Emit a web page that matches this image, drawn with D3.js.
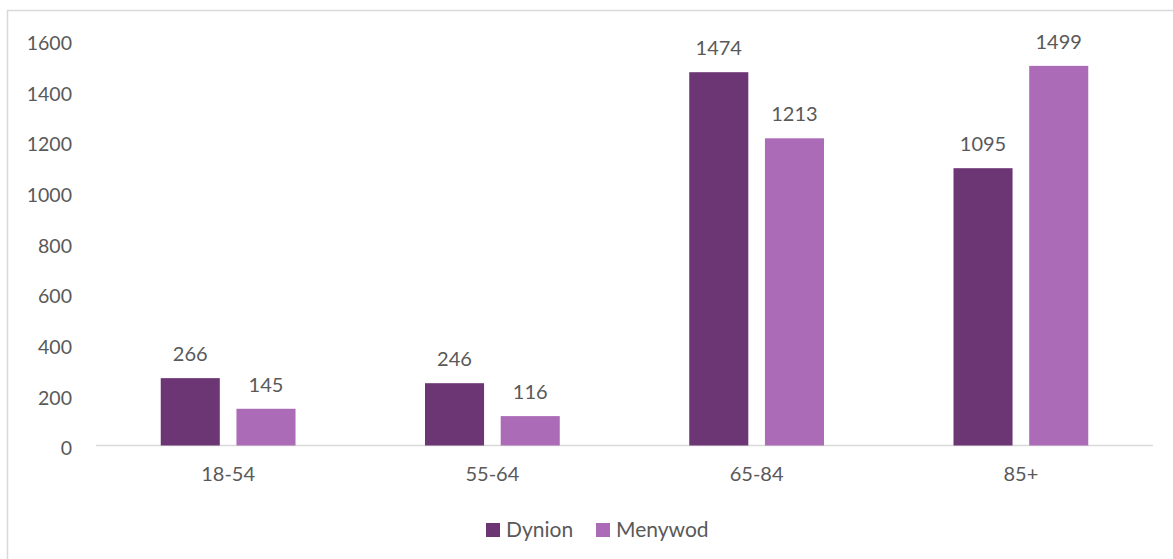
<!DOCTYPE html>
<html>
<head>
<meta charset="utf-8">
<script src="https://cdn.jsdelivr.net/npm/d3@7"></script>
<style>
  body { margin: 0; background: #fff; }
  text { font-family: Lato, "Open Sans", sans-serif; fill: #595959; }
</style>
</head>
<body>
<svg id="chart" width="1173" height="559"></svg>
<script>
// chart data
var categories = ['18-54', '55-64', '65-84', '85+'];
var seriesNames = ['Dynion', 'Menywod'];
var dynion = [266, 246, 1474, 1095];
var menywod = [145, 116, 1213, 1499];
var yTicks = [0, 200, 400, 600, 800, 1000, 1200, 1400, 1600];
var colors = ['#6c3573', '#ab6bb7'];

var svg = d3.select('#chart');
var margin = {top: 40.3, left: 96, right: 20, bottom: 113.5};
var width = 1153 - margin.left;
var height = 445.5 - margin.top;

// outer frame
svg.append('rect')
    .attr('x', 7.5).attr('y', 10.5)
    .attr('width', 1200).attr('height', 600)
    .attr('fill', 'none')
    .attr('stroke', '#d9d9d9')
    .attr('stroke-width', 1.5);

var g = svg.append('g').attr('transform', 'translate(' + margin.left + ',' + margin.top + ')');

var x0 = d3.scaleBand().domain(categories).range([0, width]).paddingInner(0.49).paddingOuter(0.245);
var x1 = d3.scaleBand().domain(seriesNames).range([0, x0.bandwidth()]).paddingInner(0.22);
var y = d3.scaleLinear().domain([0, 1600]).range([height, 0]);

// y axis labels
var yAxis = d3.axisLeft(y).tickValues(yTicks).tickFormat(d3.format('d')).tickSize(0).tickPadding(24);
g.append('g').attr('class', 'y-axis')
    .attr('transform', 'translate(0,3)')
    .call(yAxis)
    .call(function(s) { s.select('.domain').remove(); })
    .selectAll('text')
    .style('font-size', '19.5px')
    .attr('fill', '#595959');

// baseline
g.append('line')
    .attr('x1', 0).attr('x2', width)
    .attr('y1', y(0)).attr('y2', y(0))
    .attr('stroke', '#d9d9d9')
    .attr('stroke-width', 1.5);

// x axis labels
var xAxis = d3.axisBottom(x0).tickSize(0).tickPadding(21);
g.append('g').attr('class', 'x-axis')
    .attr('transform', 'translate(0,' + height + ')')
    .call(xAxis)
    .call(function(s) { s.select('.domain').remove(); })
    .selectAll('text')
    .style('font-size', '20px')
    .attr('fill', '#595959');

var rows = categories.map(function(c, i) {
  return {cat: c, vals: [dynion[i], menywod[i]]};
});

var groups = g.selectAll('.grp')
    .data(rows)
  .enter().append('g')
    .attr('class', 'grp')
    .attr('transform', function(d) { return 'translate(' + x0(d.cat) + ',0)'; });

var cells = groups.selectAll('.cell')
    .data(function(d) { return d.vals.map(function(v, j) { return {name: seriesNames[j], v: v, j: j}; }); })
  .enter();

cells.append('rect')
    .attr('x', function(d) { return x1(d.name); })
    .attr('y', function(d) { return y(d.v); })
    .attr('width', x1.bandwidth())
    .attr('height', function(d) { return height - y(d.v); })
    .attr('fill', function(d) { return colors[d.j]; });

cells.append('text')
    .attr('x', function(d) { return x1(d.name) + x1.bandwidth() / 2; })
    .attr('y', function(d) { return y(d.v) - 17; })
    .attr('text-anchor', 'middle')
    .style('font-size', '20px')
    .attr('fill', '#404040')
    .text(function(d) { return d.v; });

// legend
var legend = svg.append('g').attr('transform', 'translate(486,523)');
var legendX = [0, 110];
seriesNames.forEach(function(name, i) {
  var item = legend.append('g').attr('transform', 'translate(' + legendX[i] + ',0)');
  item.append('rect').attr('width', 14).attr('height', 14).attr('fill', colors[i]);
  item.append('text')
      .attr('x', 20).attr('y', 7)
      .attr('dy', '0.35em')
      .style('font-size', '21px')
      .text(name);
});
</script>
</body>
</html>
